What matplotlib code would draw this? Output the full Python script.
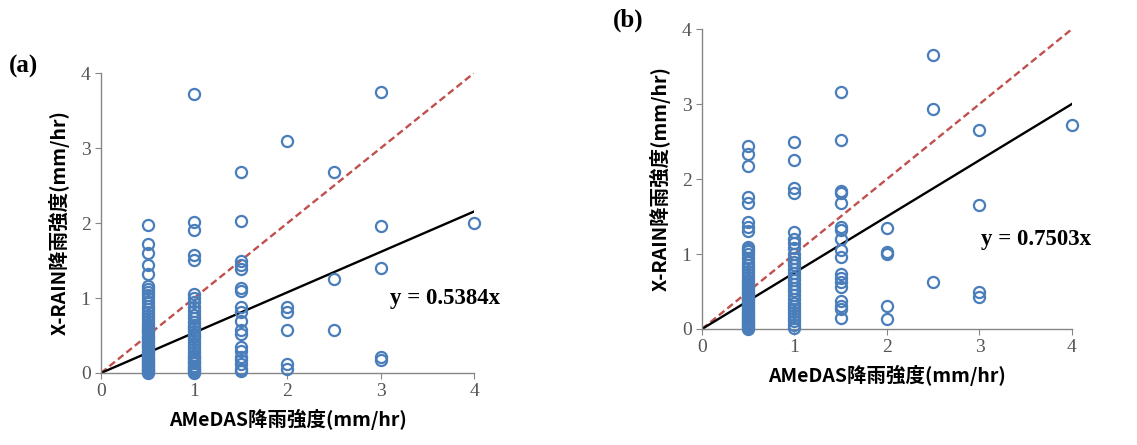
import numpy as np
import matplotlib.pyplot as plt

# data: AMeDAS (x) vs X-RAIN (y) rain intensity
xa_05 = [0.0, 0.02, 0.04, 0.06, 0.08, 0.1, 0.12, 0.14, 0.16, 0.18, 0.2, 0.22, 0.25, 0.28, 0.3,
         0.33, 0.36, 0.38, 0.4, 0.43, 0.46, 0.48, 0.5, 0.53, 0.56, 0.58, 0.6, 0.63, 0.66, 0.7,
         0.74, 0.78, 0.82, 0.86, 0.9, 0.95, 1.0, 1.04, 1.08, 1.12, 1.16, 1.32, 1.44, 1.60,
         1.72, 1.97]
xa_10 = [0.0, 0.02, 0.04, 0.06, 0.08, 0.1, 0.13, 0.15, 0.17, 0.2, 0.22, 0.24, 0.28, 0.32,
         0.36, 0.4, 0.44, 0.48, 0.5, 0.52, 0.56, 0.6, 0.62, 0.64, 0.68, 0.73, 0.78, 0.83,
         0.88, 0.95, 1.0, 1.05, 1.51, 1.58, 1.91, 2.02, 3.72]
xa_15 = [2.68, 2.03, 1.49, 1.44, 1.39, 1.14, 1.09, 0.88, 0.81, 0.70, 0.58, 0.52, 0.35, 0.30,
         0.22, 0.17, 0.12, 0.06, 0.03]
xa_20 = [3.10, 0.88, 0.81, 0.57, 0.12, 0.06]
xa_25 = [2.68, 1.25, 0.58]
xa_30 = [3.75, 1.96, 1.40, 0.21, 0.18]
xa_40 = [2.0]

xb_05 = [0.0, 0.02, 0.04, 0.06, 0.08, 0.1, 0.12, 0.14, 0.16, 0.18, 0.2, 0.22, 0.25, 0.28,
         0.3, 0.33, 0.36, 0.38, 0.4, 0.43, 0.46, 0.48, 0.5, 0.53, 0.56, 0.58, 0.6, 0.63, 0.66,
         0.7, 0.74, 0.78, 0.82, 0.86, 0.9, 0.95, 1.0, 1.04, 1.07, 1.10, 1.31, 1.36, 1.43,
         1.68, 1.76, 2.17, 2.33, 2.44]
xb_10 = [0.01, 0.05, 0.1, 0.14, 0.18, 0.22, 0.26, 0.3, 0.35, 0.4, 0.45, 0.5, 0.55, 0.6, 0.65,
         0.7, 0.75, 0.8, 0.85, 0.9, 0.95, 1.0, 1.08, 1.15, 1.20, 1.30, 1.81, 1.88, 2.25, 2.50]
xb_15 = [3.16, 2.52, 1.84, 1.81, 1.68, 1.36, 1.32, 1.20, 1.05, 0.96, 0.73, 0.68, 0.62, 0.56,
         0.37, 0.30, 0.26, 0.14]
xb_20 = [1.35, 1.03, 1.0, 0.30, 0.13]
xb_25 = [3.65, 2.93, 0.63]
xb_30 = [2.65, 1.65, 0.49, 0.42]
xb_40 = [2.72]

slope_a = 0.5384
slope_b = 0.7503

cols_a = {0.5: xa_05, 1.0: xa_10, 1.5: xa_15, 2.0: xa_20, 2.5: xa_25, 3.0: xa_30, 4.0: xa_40}
cols_b = {0.5: xb_05, 1.0: xb_10, 1.5: xb_15, 2.0: xb_20, 2.5: xb_25, 3.0: xb_30, 4.0: xb_40}

blue = '#4a7ebb'
red = '#c0504d'
grey = '#868686'
jp = ['Noto Sans CJK JP', 'DejaVu Sans']
serif = 'Liberation Serif'

fig = plt.figure(figsize=(11.37, 4.45), dpi=100)
ax_a = fig.add_axes([0.0888, 0.1618, 0.3281, 0.674])
ax_b = fig.add_axes([0.6174, 0.2607, 0.3254, 0.674])


def draw(ax, cols, slope, eq_pos):
    xs = []
    ys = []
    for k, v in cols.items():
        xs += [k] * len(v)
        ys += v
    ax.plot(xs, ys, 'o', ms=8, mfc='none', mec=blue, mew=1.6, clip_on=False, zorder=3)
    lx = np.array([0, 4])
    ax.plot(lx, lx, '--', color=red, lw=1.7, dashes=(3, 1.6), zorder=2)
    ax.plot(lx, slope * lx, '-', color='black', lw=1.7, zorder=2)
    ax.set_xlim(0, 4)
    ax.set_ylim(0, 4)
    ax.set_xticks(range(5))
    ax.set_yticks(range(5))
    for s in ['top', 'right']:
        ax.spines[s].set_visible(False)
    for s in ['left', 'bottom']:
        ax.spines[s].set_color(grey)
        ax.spines[s].set_linewidth(1.0)
    ax.tick_params(direction='out', length=4, color=grey, labelcolor='#555555',
                   labelsize=14)
    for lab in ax.get_xticklabels() + ax.get_yticklabels():
        lab.set_fontfamily(serif)
    ax.set_xlabel('AMeDAS降雨強度(mm/hr)', family=jp, fontweight='bold', fontsize=14,
                  labelpad=6)
    ax.set_ylabel('X-RAIN降雨強度(mm/hr)', family=jp, fontweight='bold', fontsize=14,
                  labelpad=8)
    ax.text(eq_pos[0], eq_pos[1], 'y = %.4fx' % slope, family=serif, fontweight='bold',
            fontsize=16.5, ha='center', va='center')


draw(ax_a, cols_a, slope_a, (3.69, 1.0))
draw(ax_b, cols_b, slope_b, (3.61, 1.19))

fig.text(24 / 1137, 1 - 66 / 445, '(a)', family=serif, fontweight='bold', fontsize=18,
         ha='center', va='center')
fig.text(628 / 1137, 1 - 20 / 445, '(b)', family=serif, fontweight='bold', fontsize=18,
         ha='center', va='center')

fig.savefig('out.png', dpi=100)
